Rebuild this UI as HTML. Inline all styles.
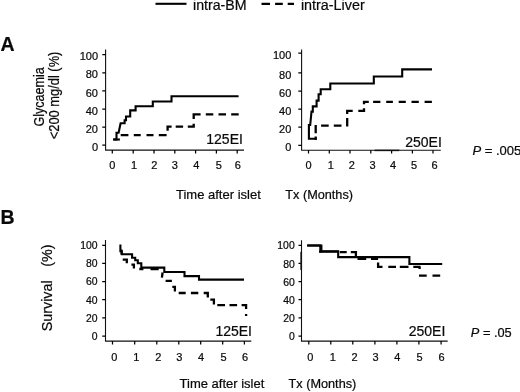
<!DOCTYPE html>
<html>
<head>
<meta charset="utf-8">
<style>
html,body{margin:0;padding:0;background:#fff;}
body{width:520px;height:392px;overflow:hidden;position:relative;font-family:"Liberation Sans",sans-serif;}
svg{position:absolute;left:0;top:0;display:block;opacity:0.999;will-change:transform;}
text{font-family:"Liberation Sans",sans-serif;fill:#0a0a0a;stroke:#0a0a0a;stroke-width:0.22px;}
.ax{stroke:#111;stroke-width:1.1;fill:none;}
.tk{stroke:#000;stroke-width:1.25;fill:none;}
.s{stroke:#000;stroke-width:2.1;fill:none;stroke-linejoin:miter;stroke-linecap:butt;}
.d{stroke:#000;stroke-width:2.3;fill:none;stroke-linejoin:miter;stroke-linecap:butt;}
.yl{font-size:11px;text-anchor:end;stroke-width:0.15px;}
.xl{font-size:11px;text-anchor:middle;stroke-width:0.15px;}
.lab{font-size:14px;}
</style>
</head>
<body>
<svg width="520" height="392" viewBox="0 0 520 392">
<!-- legend -->
<line x1="155.5" y1="3.8" x2="186.5" y2="3.8" class="s" stroke-width="2"/>
<text x="193" y="10.2" font-size="14.2">intra-BM</text>
<path class="d" stroke-width="2" d="M261.5 3.8H270M275.1 3.8H282.8M287.7 3.8H294"/>
<text x="300.9" y="10.2" font-size="14.35">intra-Liver</text>

<!-- panel letters -->
<text x="0.6" y="50.8" font-size="19.5" font-weight="bold">A</text>
<text x="0.5" y="224.4" font-size="19.5" font-weight="bold">B</text>

<!-- y labels -->
<text transform="translate(44.2,126.6) rotate(-90) scale(0.887,1)" font-size="14.2">Glycaemia</text>
<text transform="translate(58.9,139.2) rotate(-90) scale(0.9,1)" font-size="14.3">&lt;200 mg/dl (%)</text>
<text transform="translate(52.2,331.3) rotate(-90) scale(0.93,1)" font-size="15.4">Survival</text>
<text transform="translate(52.2,266.7) rotate(-90) scale(0.93,1)" font-size="15.4">(%)</text>

<!-- x labels -->
<text x="176" y="198.8" font-size="13">Time after islet</text>
<text x="285.3" y="198.8" font-size="12.7">Tx (Months)</text>
<text x="179.6" y="388.4" font-size="13">Time after islet</text>
<text x="288.6" y="388.4" font-size="12.7">Tx (Months)</text>

<!-- P values -->
<text x="472.5" y="155.4" font-size="13"><tspan font-style="italic">P</tspan> = .005</text>
<text x="470.8" y="337.4" font-size="12.8"><tspan font-style="italic">P</tspan> = .05</text>

<g id="c1">
<path class="ax" d="M105.6 49.5V150.1H244"/>
<path class="tk" d="M102.3 54.7H105.6M102.3 72.8H105.6M102.3 90.9H105.6M102.3 109H105.6M102.3 127H105.6M102.3 145H105.6"/>
<path class="tk" d="M112.3 150.1V153.4M133.2 150.1V153.4M154 150.1V153.4M174.8 150.1V153.4M195.6 150.1V153.4M216.4 150.1V153.4M237.2 150.1V153.4"/>
<g class="yl" style="font-size:11px"><text x="98" y="60.3">100</text><text x="98" y="78.4">80</text><text x="98" y="96.5">60</text><text x="98" y="114.6">40</text><text x="98" y="132.6">20</text><text x="98" y="150.6">0</text></g>
<g class="xl"><text x="112.3" y="169">0</text><text x="134" y="169">1</text><text x="154.3" y="169">2</text><text x="174.8" y="169">3</text><text x="196.4" y="169">4</text><text x="218.9" y="169">5</text><text x="237.7" y="169">6</text></g>
<path class="s" d="M113.2 139.5H116.5V132.8H118.6L120.6 123.2H124.6V120.2H126V116.5H130.2V110.4H135.6V106.2H152.8V101.5H171.5V96.3H238.6"/>
<path class="s" stroke-width="2.8" d="M113.2 139.5H119.9"/>
<path class="d" d="M120.7 135.2H128.4M133.8 135.2H140.7M146.5 135.2H153.5M158.8 135.2H166.6M167.6 125.5V130.7M166.6 126.6H171.6M175.7 126.6H183.1M187.8 126.6H194.8M193.7 123.7V127.6M193.7 113.3V119M192.6 114.4H200.6M205.8 114.4H213.3M218.5 114.4H226M231.2 114.4H238.7"/>
<text x="206.3" y="144.4" class="lab">125EI</text>
</g>
<g id="c2">
<path class="ax" d="M301.6 49.6V150.2H440.8"/>
<path class="tk" d="M298.3 53H301.6M298.3 72.9H301.6M298.3 91H301.6M298.3 109.1H301.6M298.3 127.1H301.6M298.3 145.3H301.6"/>
<path class="tk" d="M308.5 150.2V153.5M329.3 150.2V153.5M350 150.2V153.5M370.8 150.2V153.5M391.6 150.2V153.5M412.4 150.2V153.5M433 150.2V153.5"/>
<g class="yl" style="font-size:11px"><text x="291.3" y="58.6">100</text><text x="291.3" y="78.5">80</text><text x="291.3" y="96.6">60</text><text x="291.3" y="114.7">40</text><text x="291.3" y="132.7">20</text><text x="291.3" y="150.9">0</text></g>
<g class="xl"><text x="308.6" y="169.3">0</text><text x="330.7" y="169.3">1</text><text x="351.8" y="169.3">2</text><text x="372.5" y="169.3">3</text><text x="393" y="169.3">4</text><text x="414" y="169.3">5</text><text x="434.5" y="169.3">6</text></g>
<path d="M374.5 150.4H399.3" stroke="#111" stroke-width="1.5" fill="none"/>
<path class="s" d="M316.6 138.8H308.9V125H310.2L311.5 111.6H312.8V106.4H316.6V100.6H318.6V94.3H320.7V89.2H330.3V83.5H373.8V76.5H402.2V69.4H432"/>
<path class="d" d="M315.7 125V133.3M315.7 136.5V139.9M321.1 125.6H328.7M333.8 125.6H341.5M347.2 118V126.5M347.2 109.7V114.1M346.1 110.8H352.7M358.3 110.8H365.1M364 100.8V104.2M364 108.3V111.9M362.9 101.9H368.8M373.1 101.9H380.4M386.2 101.9H392.9M398.7 101.9H405.8M411.5 101.9H418.8M424.6 101.9H431.9"/>
<text x="405.2" y="146.7" class="lab">250EI</text>
</g>
<g id="c3">
<path class="ax" d="M105.5 240V341.1H251.3"/>
<path class="tk" d="M102.2 245.3H105.5M102.2 263.4H105.5M102.2 281.6H105.5M102.2 299.7H105.5M102.2 317.9H105.5M102.2 336.0H105.5"/>
<path class="tk" d="M112.5 341.1V344.4M134.7 341.1V344.4M156.8 341.1V344.4M178.8 341.1V344.4M200.7 341.1V344.4M222.7 341.1V344.4M244.4 341.1V344.4"/>
<g class="yl" style="font-size:10.4px"><text x="97.6" y="249.1">100</text><text x="97.6" y="267.2">80</text><text x="97.6" y="285.4">60</text><text x="97.6" y="303.5">40</text><text x="97.6" y="321.7">20</text><text x="97.6" y="339.8">0</text></g>
<g class="xl"><text x="114.4" y="360.5">0</text><text x="136.2" y="360.5">1</text><text x="158.4" y="360.5">2</text><text x="179.4" y="360.5">3</text><text x="201" y="360.5">4</text><text x="223.5" y="360.5">5</text><text x="245" y="360.5">6</text></g>
<path class="s" d="M120.4 244.4V251.3H121.8V254.2H132.1V257.7H135.2V260.2H137.8V263.3H141.3V267.6H164.3V272H184.5V276.1H199V279.6H244"/>
<path class="s" stroke-width="3" d="M121.5 249.5V254.5"/>
<path class="d" d="M122.7 259.7H126.8V263.2M131.4 264.7H133.9V268.6M139.3 269H143.4M150.5 269.2H158.7M162.6 272.5L161.9 277.6M165.6 280.8H171.9M172.3 286.9H174.9V291.4M178.7 293H185.7M190.9 293H198.3M203.7 293H207.8V297.6M210.3 299.6H213.9V304.5M217.3 305.1H225M229.5 305.1H237.1M241.6 305.1H246.1V309M246.1 314V316"/>
<text x="215.4" y="336.2" class="lab">125EI</text>
</g>
<g id="c4">
<path class="ax" d="M301.5 240.3V341.1H447.7"/>
<path class="tk" d="M298.5 245.3H301.5M298.5 263.4H301.5M298.5 281.6H301.5M298.5 299.7H301.5M298.5 317.9H301.5M298.5 336.0H301.5"/>
<path class="tk" d="M308.8 341.1V344.4M330.8 341.1V344.4M352.8 341.1V344.4M374.9 341.1V344.4M396.9 341.1V344.4M418.9 341.1V344.4M441.1 341.1V344.4"/>
<g class="yl" style="font-size:10.4px"><text x="294.7" y="249.4">100</text><text x="294.7" y="267.5">80</text><text x="294.7" y="285.7">60</text><text x="294.7" y="303.8">40</text><text x="294.7" y="322.0">20</text><text x="294.7" y="340.1">0</text></g>
<g class="xl"><text x="310.4" y="360.5">0</text><text x="332.7" y="360.5">1</text><text x="354.6" y="360.5">2</text><text x="375.5" y="360.5">3</text><text x="397.4" y="360.5">4</text><text x="419.5" y="360.5">5</text><text x="441.6" y="360.5">6</text></g>
<path d="M301.2 251.8V270" stroke="#111" stroke-width="1.7" fill="none"/>
<path class="s" d="M307.2 245.5H321.4V251.4H338.2V257.1H409.4V264H442.2"/>
<path class="s" stroke-width="4.2" d="M320.3 245.5V252.6"/>
<path class="s" stroke-width="2.6" d="M307.2 245.5H321"/>
<path class="s" stroke-width="3" d="M319 251.6H338.7"/>
<path class="d" d="M339.8 252.1H346.7M350.8 252.1H355.9V258M357.5 258.9H366.2M371 258.9H378.1M378.1 262.5V266.9H382.5M388.3 266.9H396M399.8 266.9H408.5M413.3 266.9H420.6M419.6 266.9V269M419 275.6H426.7M432.5 275.6H440.2"/>
<text x="408.7" y="335.7" class="lab">250EI</text>
</g>
</svg>
</body>
</html>
